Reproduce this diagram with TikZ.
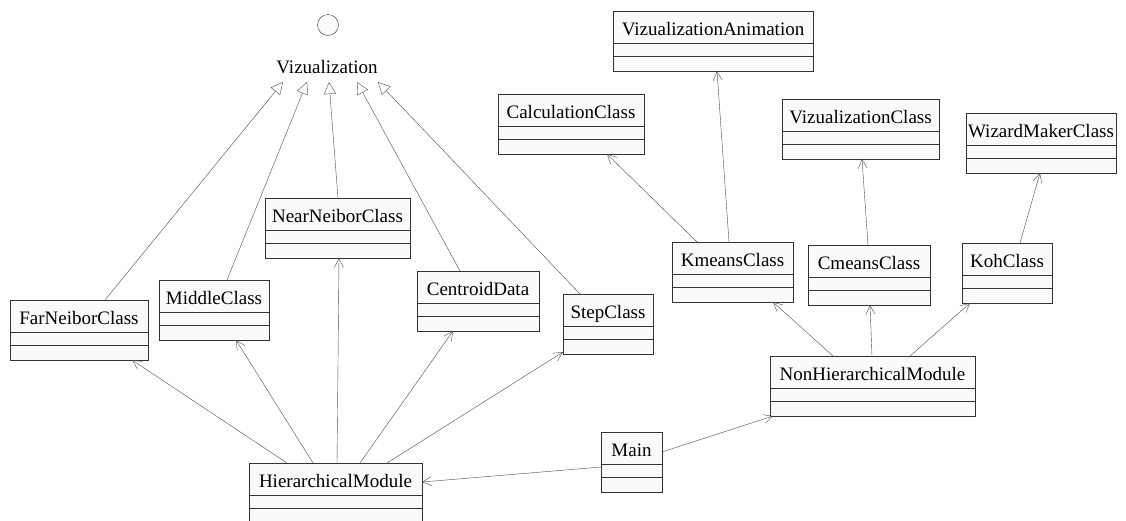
\documentclass[tikz,border=0pt]{standalone}
\usepackage{fontspec}
\setmainfont{Liberation Serif}
\usetikzlibrary{arrows.meta,calc,positioning}

\tikzset{
  clsbox/.style={draw=black!80, fill=black!2, inner sep=0pt, outer sep=0pt, minimum height=60pt, anchor=north west},
  clstitle/.style={inner sep=0pt, anchor=base, font=\fontsize{19}{22}\selectfont},
  sepline/.style={draw=black!80},
  dep/.style={draw=black!70, -{Straight Barb[length=9pt,width=9pt]}},
  real/.style={draw=black!70, -{Triangle[length=12pt,width=12pt,fill=white]}},
}

% class box: name, left, top, width, title
\newcommand\umlclass[5]{%
  \node[clsbox, minimum width=#4pt] (#1) at (#2,#3) {};
  \node[clstitle] (#1-t) at ($(#1.north)+(0,24)$) {#5};
  \draw[sepline] ($(#1.north west)+(0,32)$) -- ($(#1.north east)+(0,32)$);
  \draw[sepline] ($(#1.north west)+(0,45)$) -- ($(#1.north east)+(0,45)$);
}

\begin{document}
\begin{tikzpicture}[x=1pt, y=-1pt]
\useasboundingbox[fill=white] (0,0) rectangle (1126,520);

% interface
\node[shape=circle, draw=black!80, fill=black!2, minimum size=21pt, inner sep=0pt] (iface) at (328,25) {};
\node[clstitle] (viz) at (327,73) {Vizualization};

% classes
\umlclass{far}{10}{300}{138}{FarNeiborClass}
\umlclass{middle}{159}{280}{110}{MiddleClass}
\umlclass{near}{265}{198}{145}{NearNeiborClass}
\umlclass{centroid}{417}{271}{122}{CentroidData}
\umlclass{step}{563}{294}{90}{StepClass}
\umlclass{hm}{249}{463}{173}{HierarchicalModule}
\umlclass{main}{601}{432}{61}{Main}
\umlclass{nhm}{770}{356}{205}{NonHierarchicalModule}
\umlclass{kmeans}{672}{242}{121}{KmeansClass}
\umlclass{cmeans}{808}{245}{122}{CmeansClass}
\umlclass{koh}{962}{243}{90}{KohClass}
\umlclass{calc}{498}{94}{146}{CalculationClass}
\umlclass{vizanim}{613}{11}{200}{VizualizationAnimation}
\umlclass{vizcls}{782}{99}{157}{VizualizationClass}
\umlclass{wizard}{966}{113}{150}{WizardMakerClass}

% realizations
\draw[real] ($(far.north west)+(95,0)$) -- ($(viz.base)+(-44,9)$);
\draw[real] ($(middle.north west)+(68,0)$) -- ($(viz.base)+(-20,9)$);
\draw[real] ($(near.north west)+(73,0)$) -- ($(viz.base)+(2,9)$);
\draw[real] ($(centroid.north west)+(43,0)$) -- ($(viz.base)+(30,9)$);
\draw[real] ($(step.north west)+(17,0)$) -- ($(viz.base)+(51,9)$);

% dependencies
\draw[dep] ($(hm.north west)+(38,0)$) -- ($(far.south west)+(122,0)$);
\draw[dep] ($(hm.north west)+(64,0)$) -- ($(middle.south west)+(77,0)$);
\draw[dep] ($(hm.north west)+(88,0)$) -- ($(near.south west)+(74,0)$);
\draw[dep] ($(hm.north west)+(111,0)$) -- ($(centroid.south west)+(36,0)$);
\draw[dep] ($(hm.north west)+(138,0)$) -- ($(step.south west)+(0,-2)$);
\draw[dep] ($(main.north west)+(0,35)$) -- ($(hm.north east)+(0,19)$);
\draw[dep] ($(main.north east)+(0,20)$) -- ($(nhm.south west)+(3,0)$);
\draw[dep] ($(nhm.north west)+(63,0)$) -- ($(kmeans.south west)+(101,0)$);
\draw[dep] ($(nhm.north west)+(102,0)$) -- ($(cmeans.south west)+(62,0)$);
\draw[dep] ($(nhm.north west)+(140,0)$) -- ($(koh.south west)+(8,0)$);
\draw[dep] ($(kmeans.north west)+(25,0)$) -- ($(calc.south west)+(109,0)$);
\draw[dep] ($(kmeans.north west)+(57,0)$) -- ($(vizanim.south west)+(104,0)$);
\draw[dep] ($(cmeans.north west)+(60,0)$) -- ($(vizcls.south west)+(80,0)$);
\draw[dep] ($(koh.north west)+(58,0)$) -- ($(wizard.south west)+(74,0)$);

\end{tikzpicture}
\end{document}
